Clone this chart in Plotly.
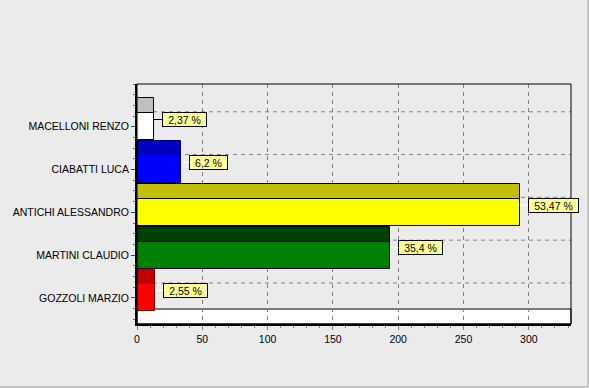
import plotly.graph_objects as go

# ---- data (top to bottom as displayed) ----
candidates = ["MACELLONI RENZO", "CIABATTI LUCA", "ANTICHI ALESSANDRO",
              "MARTINI CLAUDIO", "GOZZOLI MARZIO"]
votes = [13, 34, 293, 194, 14]
pct_labels = ["2,37 %", "6,2 %", "53,47 %", "35,4 %", "2,55 %"]
x_ticks = [0, 50, 100, 150, 200, 250, 300]

front_colors = ["#FFFFFF", "#0000FF", "#FFFF00", "#008000", "#FF0000"]
top_colors = ["#C0C0C0", "#0000C0", "#C0C000", "#004000", "#C00000"]
edge_colors = ["#000000", "#000080", "#000000", "#000000", "#800000"]
connector_colors = ["#000000", "#FFFFFF", "#FFFFFF", "#FFFFFF", "#FFFFFF"]

# ---- styling constants ----
BG = "#EBEBEB"
FONT = "Liberation Sans"
DEPTH = 0.35      # 3D depth in category units
FRONT = 0.63      # front face thickness
Y_MIN, Y_MAX = -0.61, 5.0
X_MAX = 332.3

n = len(candidates)
ypos = [n - 1 - k for k in range(n)]
ytop = [p + FRONT / 2 + DEPTH / 2 for p in ypos]

fig = go.Figure()

# top (depth) faces
fig.add_trace(go.Bar(
    x=votes, y=ytop, orientation="h", width=DEPTH,
    marker=dict(color=top_colors, line=dict(color=edge_colors, width=1)),
    hoverinfo="skip", showlegend=False))

# front faces
fig.add_trace(go.Bar(
    x=votes, y=ypos, orientation="h", width=FRONT,
    marker=dict(color=front_colors, line=dict(color=edge_colors, width=1)),
    hoverinfo="skip", showlegend=False))

shapes = []
# floor
shapes.append(dict(type="rect", xref="x domain", yref="y",
                   x0=0, x1=1, y0=Y_MIN, y1=Y_MIN + DEPTH,
                   fillcolor="#FFFFFF", line=dict(color="#000000", width=1),
                   layer="below"))
# back-wall horizontal grid lines
for p in ypos:
    shapes.append(dict(type="line", xref="x domain", yref="y",
                       x0=0, x1=1, y0=p + DEPTH, y1=p + DEPTH,
                       line=dict(color="#808080", width=1, dash="4px,4px"),
                       layer="below"))
# frame
shapes.append(dict(type="rect", xref="x domain", yref="y domain",
                   x0=0, x1=1, y0=0, y1=1,
                   line=dict(color="#000000", width=1), layer="above"))
# window border (right & bottom)
shapes.append(dict(type="line", xref="paper", yref="paper",
                   x0=1.0392, x1=1.0392, y0=-0.2625, y1=1.36,
                   line=dict(color="#A0A0A0", width=1)))
shapes.append(dict(type="line", xref="paper", yref="paper",
                   x0=-0.32, x1=1.0392, y0=-0.2625, y1=-0.2625,
                   line=dict(color="#A0A0A0", width=1)))

annotations = []
for k in range(n):
    txt = pct_labels[k]
    annotations.append(dict(
        x=votes[k], y=ypos[k] + 0.17, xref="x", yref="y",
        text=txt, showarrow=True, arrowhead=0, arrowwidth=1,
        arrowcolor=connector_colors[k], ax=8, ay=0,
        xanchor="left", yanchor="middle",
        bgcolor="#FFFF99", bordercolor="#000000", borderwidth=1, borderpad=0,
        width=6 * len(txt) + 7, height=13,
        font=dict(family=FONT, size=10.5, color="#000000")))

fig.update_layout(
    width=589, height=388,
    margin=dict(l=137, r=18, t=84, b=64),
    paper_bgcolor=BG, plot_bgcolor=BG,
    barmode="overlay", bargap=0,
    font=dict(family=FONT, size=10.5, color="#000000"),
    shapes=shapes, annotations=annotations,
    showlegend=False,
    xaxis=dict(range=[0, X_MAX], tickvals=x_ticks,
               showgrid=True, gridcolor="#808080", gridwidth=1, griddash="4px,4px",
               showline=True, linecolor="#000000", linewidth=2,
               ticks="outside", ticklen=4, tickcolor="#808080",
               minor=dict(dtick=10, tick0=0, ticks="outside", ticklen=2,
                          tickcolor="#808080", showgrid=False),
               zeroline=False, fixedrange=True),
    yaxis=dict(range=[Y_MIN, Y_MAX], tickvals=ypos, ticktext=candidates,
               showgrid=False, showline=True, linecolor="#000000", linewidth=2,
               ticks="outside", ticklen=4, tickcolor="#404040",
               minor=dict(dtick=0.25, tick0=0, ticks="outside", ticklen=2,
                          tickcolor="#606060", showgrid=False),
               zeroline=False, fixedrange=True),
)

fig.write_html("out.html",
               post_script="document.body.style.margin='0';"
                           "document.body.style.background='" + BG + "';",
               config={"displayModeBar": False})
